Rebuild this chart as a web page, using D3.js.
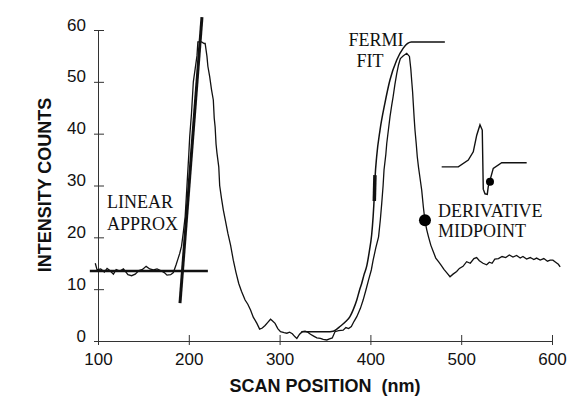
<!DOCTYPE html>
<head>
<meta charset="utf-8">
<title>Scan profile</title>
<style>
body {
  margin: 0;
  padding: 0;
  background: #fff;
}
.axis path, .axis line {
  stroke: #333;
  stroke-width: 1;
}
.axis text {
  font-family: "Liberation Sans", Arial, sans-serif;
  font-size: 17px;
  fill: #111;
}
.title {
  font-family: "Liberation Sans", Arial, sans-serif;
  font-weight: bold;
  font-size: 18px;
  fill: #111;
}
.note {
  font-family: "Liberation Serif", "Times New Roman", serif;
  font-size: 18px;
  fill: #111;
}
</style>
</head>
<body>
<svg id="viz" width="568" height="408"></svg>
<script src="https://d3js.org/d3.v7.min.js"></script>
<script>

// measured scan (x in nm, y in counts)
var scanX = [97,99,103,107,110,113,117,120,124,128,133,137,141,145,149,153,157,161,165,169,173,176,180,183,186,188,190,192,194,196,198,200,201,203,205,207,209,210,214,217,218,220,221,223,225,227,228,229,230,231,233,234,236,238,240,243,246,249,252,255,258,262,265,268,271,275,278,281,284,287,290,292,295,298,301,305,308,311,314,317,319,322,325,328,331,334,338,341,345,348,352,355,358,361,365,370,373,376,379,382,385,389,392,395,398,401,403,406,409,411,412.5,414,415,417,418,420,421.6,423.5,425,427,429,431,433,436,440,443,444.5,445.4,446.5,447.2,448.2,449.1,450.5,451.6,453,454.6,456.5,458.3,460,462,464,466.5,469.3,472,475,478,481,484,487.7,491,495,498,502,506,510,514,517,520,524,528,531,534,537,541,545,549,553,557,561,565,568,572,576,580,583,587,591,595,598,601,604,607,609]
var scanY = [15,13.7,13.9,13.3,14.0,13.6,12.9,13.8,13.5,13.9,12.8,12.6,12.9,13.6,13.8,14.4,13.9,13.7,13.9,13.6,13.2,12.7,12.8,13.2,14.7,15.8,16.9,18.3,21,24,30,36,39.4,44,50,52.5,55,57.7,57.7,57.4,57.4,54.9,53,51,48.5,46.5,43,41.3,38,36.3,33.6,30,27.5,25.3,23.5,20.8,18.5,15.6,13.2,11.1,9.6,7.9,7.1,6.0,4.6,3.4,2.3,2.5,3.0,3.6,4.2,3.9,3.4,2.4,1.8,1.6,1.5,1.7,1.4,0.8,0.5,1.3,1.8,1.9,1.7,1.3,0.9,0.6,0.5,0.3,0.2,0.4,0.6,1.8,2.0,2.1,2.6,2.4,2.8,3.8,4.7,6.3,7.9,9.8,11.8,13.7,15.6,18,20.1,23.5,26.6,30,33,36,38.1,41,43.3,45.5,47.1,49.5,51.6,53.3,54.5,55,55.5,54.9,52.5,50.4,48,45.9,43,40.7,38,35.6,33.5,31.5,29.1,25.9,23.3,21.5,20.1,18.5,17.2,16.0,15.3,14.6,13.8,13.2,12.4,12.9,13.4,14.0,14.4,15.3,15.0,15.9,16.1,15.5,15.0,14.7,15.2,15.0,15.8,15.9,16.3,16.1,16.6,16.2,16.5,16.0,16.3,15.8,16.1,15.7,16.0,15.6,15.9,15.4,15.6,15.6,15.2,14.8,14.3]

// fermi fit to the second edge
var fermiX = [324,340,352,359,363,366.5,372,377.5,381,385,388,390.4,393,396,399,401.4,403,404.3,405.2,406.9,410.6,416,421.6,429,436.2,441,445,482]
var fermiY = [1.8,1.8,1.8,1.9,2.3,2.8,3.6,4.7,6.0,7.9,9.8,11.1,12.8,14.5,17.5,20.5,24,28,31.7,35.6,40.7,45.9,50.4,54.2,56.5,57.4,57.7,57.7]

// linear approximation of the first edge and baseline
var slopeX = [190.3, 214.5]
var slopeY = [7.3, 62.5]
var baseX = [91, 221]
var baseY = [13.5, 13.5]

// fermi midpoint mark
var midX = [405, 404.3]
var midY = [32, 27]

// small derivative sketch
var insetX = [478.5,496.8,507.8,513.3,517.1,520.7,523.2,524.3,526.2,528.7,529.8,535.3,544.6,572.1]
var insetY = [33.6,33.6,34.9,36.5,39.7,41.7,40.7,29.3,28.4,28.3,29.8,33.3,34.4,34.4]

var dots = [
  { x: 460.1, y: 23.3, r: 6 },
  { x: 531.7, y: 30.7, r: 4 }
]

var notes = [
  { text: 'LINEAR', x: 110, y: 25.7, anchor: 'start' },
  { text: 'APPROX', x: 110, y: 21.4, anchor: 'start' },
  { text: 'FERMI', x: 406.2, y: 56.9, anchor: 'middle' },
  { text: 'FIT', x: 399.6, y: 52.9, anchor: 'middle' },
  { text: 'DERIVATIVE', x: 474.4, y: 23.9, anchor: 'start' },
  { text: 'MIDPOINT', x: 474.4, y: 20.1, anchor: 'start' }
]

var xTicks = [100, 200, 300, 400, 500, 600]
var yTicks = [0, 10, 20, 30, 40, 50, 60]

var svg = d3.select('#viz')

var x = d3.scaleLinear().domain([100, 600]).range([98, 552])
var y = d3.scaleLinear().domain([0, 60]).range([341, 30])

function pts(xs, ys) {
  return xs.map(function(v, i) { return [v, ys[i]] })
}

var line = d3.line()
  .x(function(d) { return x(d[0]) })
  .y(function(d) { return y(d[1]) })

// axes
var xAxis = svg.append('g')
  .attr('class', 'axis')
  .attr('transform', 'translate(0,341)')
  .call(d3.axisBottom(x).tickValues(xTicks).tickSizeOuter(0))
xAxis.selectAll('.tick line').attr('y1', -6).attr('y2', 4)
xAxis.selectAll('.tick text').attr('y', 12).attr('dy', '0.71em')

var yAxis = svg.append('g')
  .attr('class', 'axis')
  .attr('transform', 'translate(98,0)')
  .call(d3.axisLeft(y).tickValues(yTicks).tickSizeOuter(0))
yAxis.selectAll('.tick line').attr('x1', -4).attr('x2', 6)
yAxis.selectAll('.tick text').attr('x', -12).attr('dy', '0.0em')

svg.append('text')
  .attr('class', 'title')
  .attr('x', 325)
  .attr('y', 392)
  .attr('text-anchor', 'middle')
  .text('SCAN POSITION\u00a0\u00a0(nm)')

svg.append('text')
  .attr('class', 'title')
  .attr('transform', 'translate(51,185) rotate(-90)')
  .attr('text-anchor', 'middle')
  .text('INTENSITY COUNTS')

// curves
svg.append('path')
  .datum(pts(scanX, scanY))
  .attr('d', line)
  .attr('fill', 'none')
  .attr('stroke', '#111')
  .attr('stroke-width', 1.3)

svg.append('path')
  .datum(pts(fermiX, fermiY))
  .attr('d', line.curve(d3.curveMonotoneX))
  .attr('fill', 'none')
  .attr('stroke', '#111')
  .attr('stroke-width', 1.5)
line.curve(d3.curveLinear)

svg.append('path')
  .datum(pts(midX, midY))
  .attr('d', line)
  .attr('stroke', '#111')
  .attr('stroke-width', 3.5)

svg.append('path')
  .datum(pts(baseX, baseY))
  .attr('d', line)
  .attr('stroke', '#111')
  .attr('stroke-width', 2.6)

svg.append('path')
  .datum(pts(slopeX, slopeY))
  .attr('d', line)
  .attr('stroke', '#111')
  .attr('stroke-width', 3)

svg.append('path')
  .datum(pts(insetX, insetY))
  .attr('d', line)
  .attr('fill', 'none')
  .attr('stroke', '#111')
  .attr('stroke-width', 1.4)

svg.selectAll('circle.dot')
  .data(dots)
  .enter().append('circle')
    .attr('class', 'dot')
    .attr('cx', function(d) { return x(d.x) })
    .attr('cy', function(d) { return y(d.y) })
    .attr('r', function(d) { return d.r })
    .attr('fill', '#000')

svg.selectAll('text.note')
  .data(notes)
  .enter().append('text')
    .attr('class', 'note')
    .attr('x', function(d) { return x(d.x) })
    .attr('y', function(d) { return y(d.y) })
    .attr('text-anchor', function(d) { return d.anchor })
    .text(function(d) { return d.text })

</script>
</body>
</html>
